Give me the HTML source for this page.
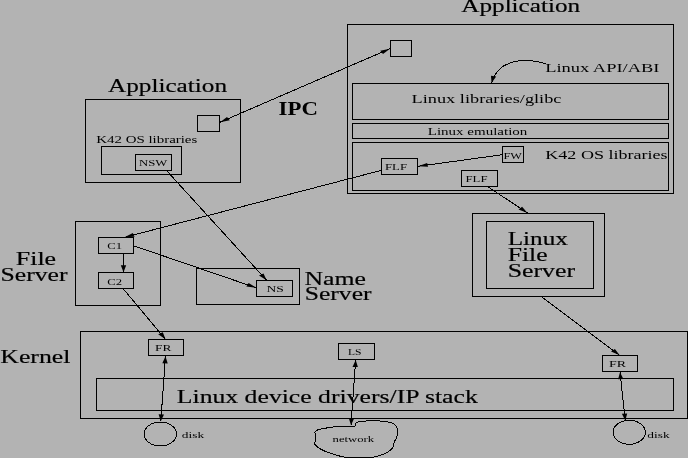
<!DOCTYPE html>
<html><head><meta charset="utf-8"><title>K42 Linux environment</title>
<style>
html,body{margin:0;padding:0;background:#b3b3b3;overflow:hidden}
svg{display:block;will-change:transform}
text{font-family:"Liberation Serif","DejaVu Serif",serif;fill:#000}
.g{stroke:#000;stroke-width:0.18}
.b{fill:none;stroke:#000;stroke-width:1;shape-rendering:crispEdges}
.l{fill:none;stroke:#000;stroke-width:1;shape-rendering:crispEdges}
polygon{fill:#000;stroke:none}
</style></head><body>
<svg width="688" height="458" viewBox="0 0 688 458">
<rect x="0" y="0" width="688" height="458" fill="#b3b3b3"/>

<!-- left application -->
<text class="g" x="108" y="91.6" font-size="18.5" textLength="119" lengthAdjust="spacingAndGlyphs">Application</text>
<rect class="b" x="85.5" y="99.5" width="155" height="83"/>
<rect class="b" x="197.5" y="115.5" width="22" height="16"/>
<text x="96.3" y="143" font-size="10" textLength="101" lengthAdjust="spacingAndGlyphs">K42 OS libraries</text>
<rect class="b" x="101.5" y="146.5" width="80" height="28"/>
<rect class="b" x="135.5" y="154.5" width="36" height="16"/>
<text x="139" y="165.8" font-size="8.5" textLength="28.3" lengthAdjust="spacingAndGlyphs">NSW</text>
<text x="278.6" y="114.6" font-size="18.5" font-weight="bold" textLength="39.3" lengthAdjust="spacingAndGlyphs">IPC</text>

<!-- right application -->
<text class="g" x="461.3" y="12.3" font-size="18.5" textLength="118.8" lengthAdjust="spacingAndGlyphs">Application</text>
<rect class="b" x="347.5" y="24.5" width="326" height="169"/>
<rect class="b" x="390.5" y="40.5" width="21" height="16"/>
<text x="545.2" y="71.5" font-size="12.8" textLength="114.3" lengthAdjust="spacingAndGlyphs">Linux API/ABI</text>
<path class="l" d="M546,64 C528,58 499,57 491.5,83"/>
<rect class="b" x="352.5" y="83.5" width="316" height="36"/>
<text x="411.5" y="103" font-size="12.8" textLength="150" lengthAdjust="spacingAndGlyphs">Linux libraries/glibc</text>
<rect class="b" x="352.5" y="123.5" width="316" height="15"/>
<text x="427.8" y="135" font-size="10.5" textLength="99.5" lengthAdjust="spacingAndGlyphs">Linux emulation</text>
<rect class="b" x="352.5" y="142.5" width="316" height="48"/>
<rect class="b" x="502.5" y="146.5" width="21" height="16"/>
<text x="503.5" y="158.5" font-size="8.5" textLength="18.5" lengthAdjust="spacingAndGlyphs">FW</text>
<text x="545.3" y="158.5" font-size="12.8" textLength="122.3" lengthAdjust="spacingAndGlyphs">K42 OS libraries</text>
<rect class="b" x="381.5" y="158.5" width="36" height="16"/>
<text x="385" y="170" font-size="8.5" textLength="22" lengthAdjust="spacingAndGlyphs">FLF</text>
<rect class="b" x="461.5" y="170.5" width="36" height="16"/>
<text x="465.5" y="182" font-size="8.5" textLength="22" lengthAdjust="spacingAndGlyphs">FLF</text>

<!-- Linux File Server -->
<rect class="b" x="472.5" y="213.5" width="132" height="83"/>
<rect class="b" x="486.5" y="221.5" width="107" height="67"/>
<text class="g" x="507.7" y="244.5" font-size="18.5" textLength="60.3" lengthAdjust="spacingAndGlyphs">Linux</text>
<text class="g" x="507.7" y="260.5" font-size="18.5" textLength="39.8" lengthAdjust="spacingAndGlyphs">File</text>
<text class="g" x="507.7" y="276.5" font-size="18.5" textLength="67.3" lengthAdjust="spacingAndGlyphs">Server</text>

<!-- File server -->
<text class="g" x="15.8" y="264.5" font-size="18.5" textLength="40.3" lengthAdjust="spacingAndGlyphs">File</text>
<text class="g" x="0.5" y="280.5" font-size="18.5" textLength="67" lengthAdjust="spacingAndGlyphs">Server</text>
<rect class="b" x="75.5" y="221.5" width="85" height="84"/>
<rect class="b" x="98.5" y="237.5" width="35" height="16"/>
<text x="107.2" y="249" font-size="8.5" textLength="14.8" lengthAdjust="spacingAndGlyphs">C1</text>
<rect class="b" x="98.5" y="272.5" width="35" height="16"/>
<text x="107.2" y="284.5" font-size="8.5" textLength="14.8" lengthAdjust="spacingAndGlyphs">C2</text>

<!-- Name server -->
<rect class="b" x="196.5" y="268.5" width="103" height="36"/>
<rect class="b" x="256.5" y="280.5" width="36" height="16"/>
<text x="266.6" y="292" font-size="8.5" textLength="17.3" lengthAdjust="spacingAndGlyphs">NS</text>
<text class="g" x="304.5" y="284.5" font-size="18.5" textLength="61.5" lengthAdjust="spacingAndGlyphs">Name</text>
<text class="g" x="304.8" y="300" font-size="18.5" textLength="66.7" lengthAdjust="spacingAndGlyphs">Server</text>

<!-- Kernel -->
<text class="g" x="0.3" y="362.8" font-size="18.5" textLength="70.2" lengthAdjust="spacingAndGlyphs">Kernel</text>
<rect class="b" x="80.5" y="331.5" width="607" height="87"/>
<rect class="b" x="148.5" y="339.5" width="35" height="16"/>
<text x="155" y="351" font-size="8.5" textLength="16.3" lengthAdjust="spacingAndGlyphs">FR</text>
<rect class="b" x="338.5" y="343.5" width="36" height="16"/>
<text x="348" y="355" font-size="8.5" textLength="13.5" lengthAdjust="spacingAndGlyphs">LS</text>
<rect class="b" x="602.5" y="355.5" width="35" height="16"/>
<text x="609" y="367" font-size="8.5" textLength="17" lengthAdjust="spacingAndGlyphs">FR</text>
<rect class="b" x="96.5" y="378.5" width="577" height="32"/>
<text class="g" x="176.8" y="402.8" font-size="18.5" textLength="301" lengthAdjust="spacingAndGlyphs">Linux device drivers/IP stack</text>

<!-- arrows -->
<path class="l" d="M220.0,122.2 L390.0,48.7"/><polygon points="390.0,48.7 383.0,54.0 380.2,50.7"/><polygon points="220.0,122.2 227.0,116.9 229.8,120.2"/>
<path class="l" d="M502.5,154.7 L418.0,166.3"/><polygon points="418.0,166.3 427.1,163.1 428.1,166.8"/>
<path class="l" d="M381.5,170.3 L124.5,237.3"/><polygon points="124.5,237.3 132.8,233.1 134.6,236.7"/>
<path class="l" d="M487.5,186.5 L527.5,213.0"/><polygon points="527.5,213.0 518.5,209.6 522.1,206.8"/>
<path class="l" d="M166.5,170.5 L266.6,280.3"/><polygon points="266.6,280.3 259.0,275.5 263.5,273.4"/>
<path class="l" d="M541.3,296.5 L619.7,355.3"/><polygon points="619.7,355.3 611.0,351.5 614.9,348.9"/>
<path class="l" d="M123.5,253.5 L123.5,272.3"/><polygon points="123.5,272.3 120.8,265.3 126.2,265.3"/>
<path class="l" d="M133.5,245.7 L256.3,287.8"/><polygon points="256.3,287.8 246.3,286.5 248.6,283.1"/>
<path class="l" d="M123.0,288.5 L165.5,339.3"/><polygon points="165.5,339.3 158.2,334.3 162.8,332.3"/>
<path class="l" d="M165.5,356.3 L160.8,421.3"/><polygon points="160.8,421.3 158.6,414.2 164.0,414.4"/><polygon points="165.5,356.3 167.7,363.4 162.3,363.2"/>
<path class="l" d="M355.7,360.0 L351.0,425.2"/><polygon points="351.0,425.2 348.8,418.1 354.2,418.3"/><polygon points="355.7,360.0 357.9,367.1 352.5,366.9"/>
<path class="l" d="M620.0,372.2 L625.3,420.5"/><polygon points="625.3,420.5 621.9,413.7 627.2,413.4"/><polygon points="620.0,372.2 623.4,379.0 618.1,379.3"/>
<polygon points="491.5,83.0 491.0,75.8 496.2,76.6"/>
<ellipse class="l" cx="160.3" cy="434" rx="16.2" ry="12"/>
<text x="181.8" y="437.7" font-size="8.5" textLength="22.3" lengthAdjust="spacingAndGlyphs">disk</text>
<ellipse class="l" cx="629.2" cy="432.3" rx="16.1" ry="12"/>
<text x="647.3" y="437.7" font-size="8.5" textLength="22.3" lengthAdjust="spacingAndGlyphs">disk</text>
<path class="l" d="M352,426 L355,426 L355.2,423.6 C357,422 358,421.7 360,421.5 C364,421 367,420.9 370.3,420.9 C375,420.8 379,420.9 383.1,421.2 C386,421.5 389,422 391.9,422.8 C393.5,423.6 395,424.6 395.9,426 C397,427.5 397.8,429 397.8,430.8 C397.9,433 397.3,435 396.7,437.2 C396,439 395,440.5 394.3,442 C393.7,444 393.5,446 392.7,447.6 C391.5,449.5 390,450.8 387.9,451.9 C385.5,453.3 383,454.6 379.9,455.6 C377,456.5 374,457.2 370.3,457.5 L346.4,457.5 C342.5,457 339,456 335.2,454.8 C331.5,453.6 327.5,452.3 324,450.8 C321.5,449.7 319.5,448.5 317.6,447.1 C316.2,446 315,445 314.4,443.9 L315.5,440.4 L315.5,434 L314.4,432.4 C315,431.3 316,430.6 317.6,430 C321,428.9 325,428.2 328.8,427.6 C332.5,427 336,426.6 340,426.3 C344,426 348,426 352,426z"/>
<text x="332.6" y="441.8" font-size="8.5" textLength="41.5" lengthAdjust="spacingAndGlyphs">network</text>
</svg>
</body></html>
